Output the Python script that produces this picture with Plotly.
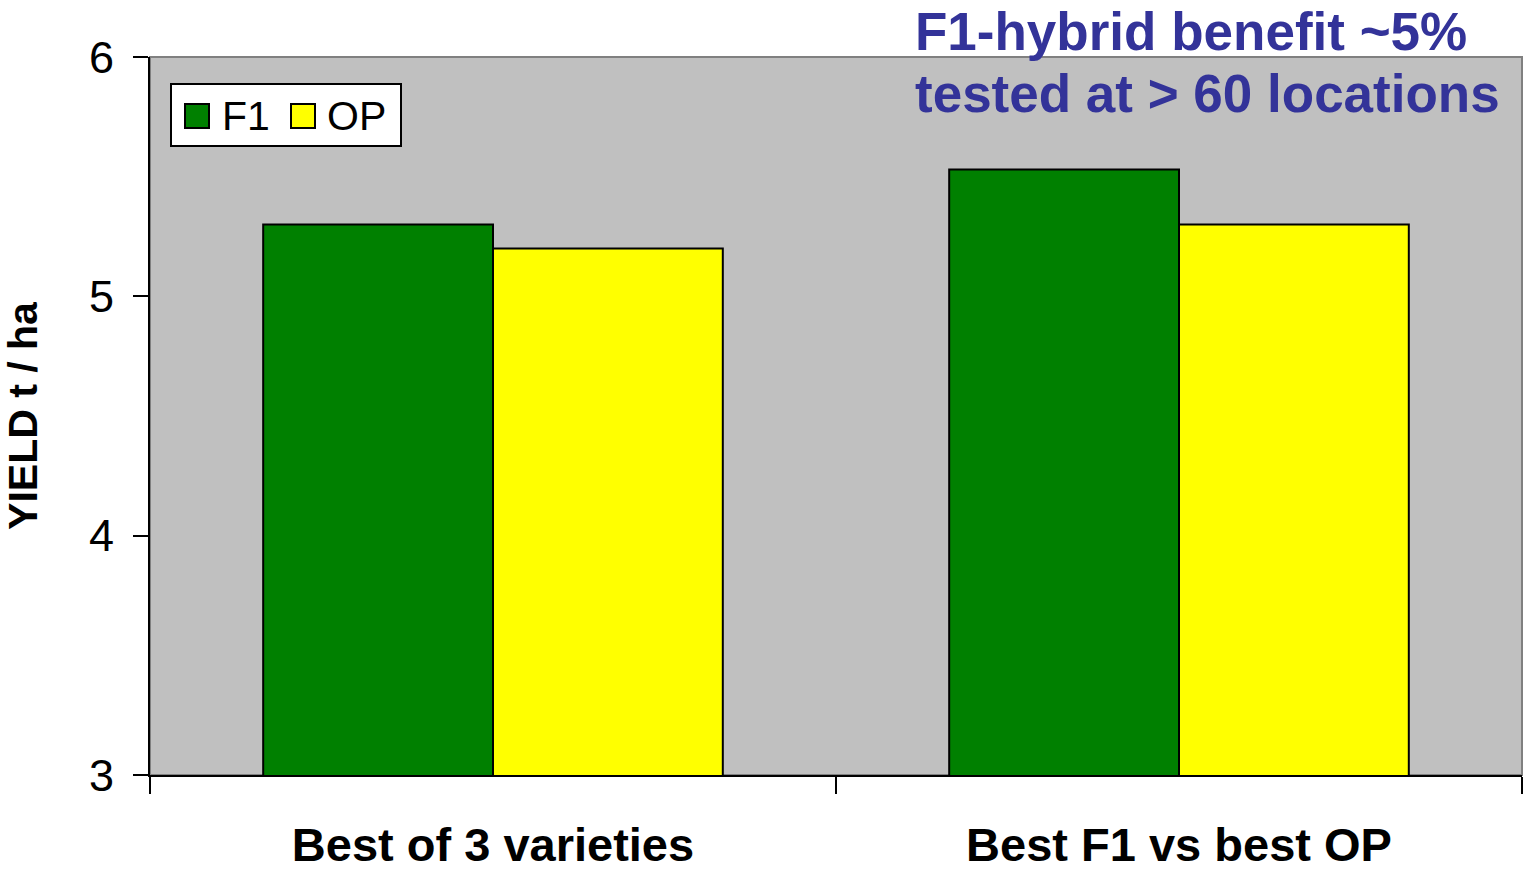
import plotly.graph_objects as go

categories = ["Best of 3 varieties", "Best F1 vs best OP"]
series_names = ["F1", "OP"]
f1_values = [5.30, 5.53]
op_values = [5.20, 5.30]
y_ticks = [3, 4, 5, 6]
title_lines = ["F1-hybrid benefit ~5%", "tested at > 60 locations"]
y_title = "YIELD t / ha"

colors = ["#008000", "#FFFF00"]
FONT = "Liberation Sans, Arial, sans-serif"

fig = go.Figure()
for name, vals, col in zip(series_names, [f1_values, op_values], colors):
    fig.add_trace(go.Bar(
        x=categories, y=vals, name=name,
        marker=dict(color=col, line=dict(color="black", width=2)),
        showlegend=False,
    ))

W, H = 1524, 872
L, R, T, B = 150, 2, 57, 97
pw, ph = W - L - R, H - T - B

def px(x):
    return (x - L) / pw

def py(y):
    return 1 - (y - T) / ph

fig.update_layout(
    width=W, height=H,
    margin=dict(l=L, r=R, t=T, b=B),
    paper_bgcolor="white",
    plot_bgcolor="#C0C0C0",
    barmode="group",
    bargap=0.33,
    bargroupgap=0,
    font=dict(family=FONT, color="black"),
    showlegend=False,
)

fig.update_yaxes(
    range=[3, 6], tickvals=y_ticks, ticktext=[str(v) for v in y_ticks],
    ticks="outside", ticklen=15, tickwidth=2, tickcolor="black",
    showline=True, linecolor="black", linewidth=2,
    showgrid=False, zeroline=False,
    tickfont=dict(size=45, family=FONT),
    ticklabelstandoff=10,
    title=dict(text=y_title, font=dict(size=41, family=FONT, weight="bold"), standoff=40),
)
fig.update_xaxes(
    type="category", tickson="boundaries",
    ticks="outside", ticklen=17, tickwidth=2, tickcolor="black",
    showline=True, linecolor="black", linewidth=2,
    showgrid=False,
    tickfont=dict(size=47, family=FONT, weight="bold"),
    ticklabelstandoff=28,
)

# plot-area border (gray, top/right)
fig.add_shape(type="rect", xref="paper", yref="paper", x0=0, x1=1, y0=0, y1=1,
              line=dict(color="#808080", width=2), layer="below")

# title annotation (one per line for exact spacing)
for line, yc in zip(title_lines, [31, 93]):
    fig.add_annotation(
        xref="paper", yref="paper", x=px(913), y=py(yc),
        xanchor="left", yanchor="middle", align="left", showarrow=False,
        text=line,
        font=dict(size=53, family=FONT, color="#333399", weight="bold"),
    )

# custom legend
fig.add_shape(type="rect", xref="paper", yref="paper",
              x0=px(171), x1=px(401), y0=py(146), y1=py(84),
              fillcolor="white", line=dict(color="black", width=2), layer="above")
sq = [(185, 209), (291, 315)]
txt_x = [220, 325]
for (x0, x1), tx, name, col in zip(sq, txt_x, series_names, colors):
    fig.add_shape(type="rect", xref="paper", yref="paper",
                  x0=px(x0), x1=px(x1), y0=py(128), y1=py(104),
                  fillcolor=col, line=dict(color="black", width=2), layer="above")
    fig.add_annotation(xref="paper", yref="paper", x=px(tx), y=py(116),
                       xanchor="left", yanchor="middle", showarrow=False,
                       text=name, font=dict(size=41, family=FONT, color="black"))

post = ("document.body.style.margin='0';"
        "document.documentElement.style.overflow='hidden';"
        "document.body.style.overflow='hidden';")
fig.write_html("out.html", post_script=post, config={"displayModeBar": False})
